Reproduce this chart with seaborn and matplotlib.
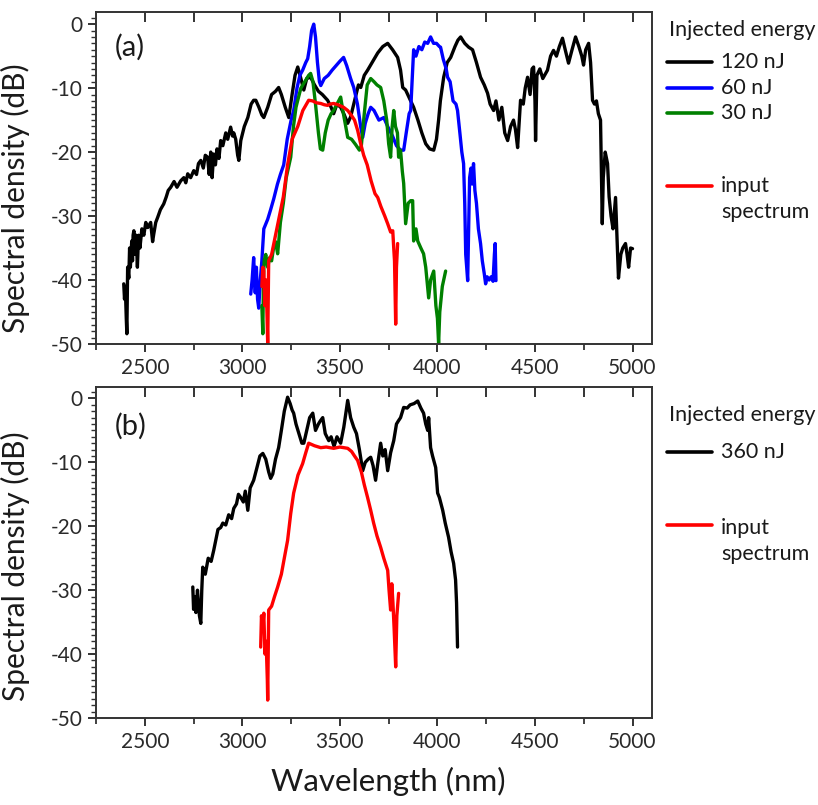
import numpy as np
import pandas as pd
import seaborn as sns
import matplotlib
matplotlib.use("Agg")
import matplotlib.pyplot as plt
from matplotlib.ticker import MultipleLocator
from matplotlib.lines import Line2D

# ---------------- data ----------------
e120_x = [2392, 2396, 2400, 2405, 2408, 2412, 2418, 2422, 2426, 2433, 2437, 2440, 2444, 2450, 2456,
          2462, 2468, 2475, 2485, 2495, 2505, 2515, 2530, 2540, 2546, 2556, 2566, 2580, 2597, 2610,
          2620, 2633, 2650, 2665, 2684, 2700, 2710, 2720, 2735, 2751, 2765, 2775, 2787, 2800, 2810,
          2822, 2830, 2838, 2845, 2853, 2862, 2870, 2880, 2889, 2900, 2915, 2925, 2940, 2950, 2956,
          2966, 2976, 2982, 2992, 3010, 3028, 3045, 3058, 3069, 3085, 3100, 3110, 3130, 3150, 3170,
          3186, 3200, 3220, 3238, 3255, 3270, 3284, 3300, 3315, 3330, 3350, 3370, 3390, 3410, 3437,
          3455, 3468, 3485, 3504, 3520, 3540, 3555, 3575, 3595, 3607, 3625, 3642, 3665, 3694, 3720,
          3745, 3770, 3796, 3811, 3822, 3837, 3855, 3878, 3900, 3920, 3940, 3960, 3981, 3995, 4006,
          4015, 4032, 4050, 4068, 4090, 4105, 4119, 4140, 4160, 4180, 4200, 4221, 4240, 4257, 4270,
          4288, 4300, 4315, 4330, 4345, 4360, 4375, 4390, 4400, 4411, 4420, 4426, 4440, 4450, 4462,
          4475, 4485, 4493, 4500, 4503, 4510, 4525, 4540, 4564, 4580, 4595, 4610, 4625, 4641, 4655,
          4672, 4690, 4708, 4725, 4740, 4749, 4760, 4775, 4785, 4795, 4805, 4815, 4825, 4836, 4840,
          4845, 4850, 4860, 4872, 4880, 4890, 4900, 4913, 4920, 4928, 4940, 4950, 4964, 4972, 4980,
          4990, 5000]
e120_y = [-40.6, -43, -41, -46, -48.4, -38, -39.7, -35, -38, -33.9, -37, -33, -32.3, -36, -33,
          -38, -33, -35, -32, -33, -31, -31.8, -31, -34, -32.8, -31, -30.2, -29, -28.1, -27,
          -26, -25.5, -24.6, -25.5, -24.5, -24, -24.8, -23.4, -24, -22.9, -23.5, -21.8, -21.3, -22.5, -20.5,
          -20.8, -23.5, -20, -24, -20.3, -22, -19.5, -21, -18.2, -19, -17, -18, -16.1, -17.5, -17,
          -18, -20.5, -21.3, -18.2, -16, -14.6, -12.5, -11.9, -11.9, -13, -14.2, -14.6, -13, -11, -10.5,
          -9.9, -11, -13, -14.6, -11, -8, -6.7, -8.5, -10.3, -8.5, -8.3, -9.5, -10.5, -11, -11.9,
          -13, -14, -12.5, -13, -14, -15.5, -14.5, -12, -9.5, -9.9, -8, -7.2, -6, -4.5, -3.5,
          -3, -4, -5.2, -7.2, -9.9, -10.3, -11.5, -13, -15, -17, -18.7, -19.5, -19.7, -18, -15,
          -12, -8.3, -6, -5.2, -3.5, -2.5, -2, -3, -3.6, -4, -6, -8.3, -9.5, -10.8, -12.5,
          -13.5, -12, -15, -13, -17, -18.2, -16, -15, -16.5, -19.3, -15, -11.9, -12.5, -10, -8.3,
          -11, -7, -6.7, -12, -18.2, -8, -7, -8.5, -7.2, -5, -4.1, -5, -3.5, -2.2, -4,
          -6.1, -4, -2, -3.5, -5, -6.4, -4, -3, -6, -11.9, -12.5, -12, -14, -15, -22,
          -31.2, -24, -20, -21.8, -27, -30, -32, -27.1, -33, -39.7, -36, -35, -34.3, -36, -38,
          -35, -35.1]

e60_x = [3043, 3050, 3058, 3066, 3072, 3078, 3084, 3092, 3100, 3110, 3130, 3145, 3161, 3180, 3195,
         3212, 3230, 3250, 3263, 3280, 3295, 3309, 3325, 3335, 3345, 3355, 3366, 3375, 3385, 3395,
         3402, 3420, 3440, 3460, 3480, 3500, 3519, 3535, 3555, 3571, 3590, 3607, 3617, 3630, 3645,
         3658, 3675, 3700, 3725, 3745, 3770, 3790, 3811, 3827, 3840, 3855, 3863, 3870, 3878, 3890,
         3905, 3920, 3935, 3950, 3965, 3980, 3995, 4010, 4016, 4030, 4045, 4052, 4065, 4080, 4095,
         4103, 4115, 4125, 4134, 4140, 4145, 4150, 4155, 4160, 4165, 4172, 4178, 4185, 4192, 4200,
         4210, 4221, 4230, 4240, 4247, 4255, 4265, 4275, 4285, 4292, 4296, 4300]
e60_y = [-42.2, -40, -36.5, -42, -38, -43, -44.4, -40, -37, -32, -30.5, -29, -27.3, -25, -23.5,
         -22, -18, -15, -13.5, -10, -8, -7.2, -6, -5.4, -3.5, -1, 0, -2, -6, -9,
         -9.6, -8.5, -8, -7.2, -6.5, -5.8, -5.2, -6.5, -8.5, -9.9, -12.5, -16.1, -17.7, -15.5, -14,
         -13, -13.5, -15, -14.6, -16, -17.5, -19, -19.7, -19.7, -17, -14, -13.5, -9, -4, -5,
         -3.5, -4, -2.8, -3, -2, -3, -3, -3.5, -3.6, -5.5, -7, -8.3, -9, -12, -12.5,
         -13.5, -17, -20, -21.8, -28, -36, -38, -40.1, -32, -24, -22.5, -25, -21.8, -26, -28,
         -32, -34.3, -37, -39, -40.6, -39.5, -40, -39.5, -40.2, -36, -34.3, -40.1]

e30_x = [3100, 3105, 3108, 3112, 3120, 3130, 3140, 3150, 3160, 3170, 3181, 3195, 3210, 3225, 3248,
         3262, 3275, 3284, 3300, 3320, 3340, 3350, 3362, 3375, 3390, 3400, 3412, 3425, 3440, 3455,
         3468, 3485, 3504, 3515, 3530, 3540, 3560, 3580, 3600, 3610, 3625, 3640, 3658, 3675, 3690,
         3709, 3725, 3740, 3750, 3760, 3768, 3776, 3785, 3795, 3801, 3811, 3820, 3827, 3837, 3850,
         3863, 3873, 3878, 3890, 3899, 3915, 3929, 3940, 3955, 3965, 3981, 3992, 4000, 4006, 4012,
         4025, 4042]
e30_y = [-44, -48.4, -40, -37, -36, -38, -36.5, -37, -35, -34, -35.9, -31, -28, -24, -20.8,
         -16, -13, -11.9, -10, -9, -8, -7.7, -9, -12.5, -17, -19.5, -19.7, -17, -15, -14,
         -13.5, -12.5, -11.4, -13.5, -16, -17.7, -18, -18.8, -19.7, -19, -14, -9.5, -8.5, -9, -9.5,
         -9.9, -12, -15, -18.7, -20.8, -16, -13.5, -16, -17, -20.8, -19.7, -23, -24.9, -31.2, -28,
         -27.6, -27.6, -33.9, -32, -33.9, -35, -35.9, -38, -42.8, -40, -38.6, -44, -46, -50, -45,
         -41, -38.6]

inA_x = [3100, 3105, 3110, 3115, 3122, 3130, 3135, 3150, 3170, 3190, 3210, 3232, 3255, 3284, 3310,
         3340, 3360, 3380, 3402, 3420, 3437, 3450, 3468, 3490, 3519, 3540, 3560, 3575, 3591, 3605,
         3622, 3640, 3660, 3680, 3694, 3710, 3730, 3745, 3760, 3771, 3776, 3780, 3786, 3790, 3796]
inA_y = [-41, -38, -38.6, -44, -40, -50, -37, -36, -33, -30, -27, -22, -18, -16, -13.5,
         -11.9, -12, -12.3, -12.4, -12.6, -12.7, -12.5, -12.4, -12.6, -13, -13.5, -14.3, -15, -16.6, -18.5,
         -20.5, -22, -24.5, -26.5, -27.1, -28.5, -30, -31.2, -32.5, -32.3, -35, -37, -46.9, -38, -34.3]

e360_x = [2746, 2750, 2756, 2762, 2770, 2780, 2787, 2792, 2797, 2810, 2825, 2840, 2853, 2865, 2875,
          2889, 2900, 2915, 2930, 2945, 2956, 2970, 2980, 2992, 3005, 3015, 3028, 3040, 3058, 3075,
          3090, 3105, 3120, 3135, 3145, 3156, 3170, 3186, 3200, 3215, 3232, 3245, 3255, 3263, 3275,
          3290, 3305, 3315, 3330, 3345, 3361, 3375, 3390, 3400, 3412, 3425, 3443, 3455, 3470, 3485,
          3504, 3520, 3532, 3540, 3555, 3571, 3585, 3600, 3617, 3630, 3645, 3658, 3670, 3683, 3695,
          3709, 3720, 3732, 3745, 3760, 3776, 3790, 3800, 3811, 3827, 3845, 3860, 3880, 3899, 3915,
          3929, 3940, 3950, 3955, 3965, 3975, 3991, 4001, 4010, 4027, 4040, 4057, 4070, 4083, 4093,
          4098, 4103]
e360_y = [-29.5, -33, -31, -33.5, -30, -34, -35.2, -30, -26.4, -27.5, -25, -25.5, -23.8, -22, -20.5,
          -20.2, -19.5, -19.8, -18.2, -18.8, -17.2, -16.5, -15, -15.5, -16.2, -14.5, -17.5, -14, -12.8, -10.8,
          -9, -8.6, -9.5, -11.5, -12.5, -11.8, -9.5, -7.7, -5, -2, 0.2, -0.8, -1.8, -2.3, -4,
          -5.5, -7, -7, -5, -3, -2.3, -5, -4, -3.5, -3, -5.5, -6.6, -6, -7.5, -6,
          -7, -4.5, -2, -0.3, -3, -4.5, -5.5, -8, -11.3, -10, -9.5, -9.2, -10.5, -12.8, -10,
          -7, -9, -8, -11.3, -8.5, -6.6, -4, -3.5, -3, -1.4, -1.5, -1, -0.8, -0.4, -1.5,
          -2.3, -4, -5, -3, -7.7, -9, -10.8, -14.8, -15.5, -17.5, -19.5, -21.7, -24, -25.8, -28.4,
          -32, -38.9]

inB_x = [3094, 3098, 3104, 3110, 3116, 3122, 3128, 3130, 3135, 3150, 3165, 3181, 3200, 3215, 3232,
         3248, 3263, 3285, 3309, 3325, 3340, 3370, 3402, 3430, 3468, 3500, 3540, 3560, 3575, 3591,
         3610, 3625, 3642, 3658, 3673, 3690, 3709, 3725, 3745, 3752, 3760, 3766, 3772, 3778, 3786,
         3792, 3801]
inB_y = [-38.9, -34, -36, -33.6, -40, -38, -44, -47.2, -33.1, -32.5, -31, -29.5, -27.5, -25, -22.2,
         -18, -14.8, -12, -10.2, -8.5, -7.0, -7.4, -7.7, -7.6, -7.8, -7.6, -7.8, -8.3, -9, -9.7,
         -11.5, -13.5, -15.5, -17.5, -19.5, -21.5, -23.3, -25, -26.9, -30, -33.1, -29, -32, -36, -42,
         -34, -30.5]

labels_a = ["120 nJ", "60 nJ", "30 nJ", "input\nspectrum"]
labels_b = ["360 nJ", "input\nspectrum"]
colors = {"120 nJ": "#000000", "60 nJ": "#0000ff", "30 nJ": "#008000",
          "input\nspectrum": "#ff0000", "360 nJ": "#000000"}
xticks = [2500, 3000, 3500, 4000, 4500, 5000]
yticks = [0, -10, -20, -30, -40, -50]

# ---------------- build tables ----------------
def frame(pairs):
    rows = []
    for lab, xs, ys in pairs:
        rows.append(pd.DataFrame({"wl": xs, "dB": ys, "series": lab}))
    return pd.concat(rows, ignore_index=True)

df_a = frame([("120 nJ", e120_x, e120_y), ("60 nJ", e60_x, e60_y),
              ("30 nJ", e30_x, e30_y), ("input\nspectrum", inA_x, inA_y)])
df_b = frame([("360 nJ", e360_x, e360_y), ("input\nspectrum", inB_x, inB_y)])

sns.set_theme(style="ticks")
plt.rcParams["font.family"] = ["Lato", "DejaVu Sans"]
plt.rcParams["axes.unicode_minus"] = False

fig = plt.figure(figsize=(8.18, 8.05), dpi=100)
ax_a = fig.add_axes([0.1174, 0.5727, 0.6797, 0.4124])
ax_b = fig.add_axes([0.1174, 0.1081, 0.6797, 0.4112])

tick_col = "#2a2a2a"
spine_col = "#333333"

def style(ax, ylim_top, ylab_y):
    ax.set_xlim(2250, 5100)
    ax.set_ylim(-50, ylim_top)
    ax.set_xticks(xticks)
    ax.set_xticklabels([str(t) for t in xticks])
    ax.set_yticks(yticks)
    ax.set_yticklabels([str(t) for t in yticks])
    ax.xaxis.set_minor_locator(MultipleLocator(250))
    ax.yaxis.set_minor_locator(MultipleLocator(1))
    for s in ax.spines.values():
        s.set_visible(True)
        s.set_color(spine_col)
        s.set_linewidth(1.4)
    ax.tick_params(axis="both", which="both", bottom=True, left=True, top=False, right=False)
    ax.tick_params(axis="both", which="major", direction="out", length=6, width=1.4,
                   color=spine_col, labelsize=15, labelcolor=tick_col, pad=4)
    ax.tick_params(axis="x", which="minor", direction="out", length=4.5, width=1.3, color=spine_col)
    ax.tick_params(axis="y", which="minor", direction="out", length=3.5, width=1.0, color=spine_col)
    sec = ax.secondary_xaxis("top")
    sec.set_xticks(list(range(2500, 5001, 250)))
    sec.tick_params(axis="x", which="major", top=True, direction="in", length=7, width=1.4,
                    color=spine_col, labeltop=False)
    sec.spines["top"].set_visible(False)
    ax.set_xlabel("")
    ax.set_ylabel("Spectral density (dB)", fontsize=21.5, color="#1a1a1a")
    ax.yaxis.set_label_coords(-0.119, ylab_y)
    ax.grid(False)

sns.lineplot(data=df_a, x="wl", y="dB", hue="series", hue_order=labels_a, palette=colors,
             sort=False, estimator=None, linewidth=2.4, legend=False, ax=ax_a)
sns.lineplot(data=df_b, x="wl", y="dB", hue="series", hue_order=labels_b, palette=colors,
             sort=False, estimator=None, linewidth=2.4, legend=False, ax=ax_b)

style(ax_a, 1.9, 0.44)
style(ax_b, 1.8, 0.46)
ax_a.text(0.034, 0.895, "(a)", transform=ax_a.transAxes, fontsize=21, color="#1a1a1a",
          va="center", ha="left")
ax_b.text(0.034, 0.882, "(b)", transform=ax_b.transAxes, fontsize=21, color="#1a1a1a",
          va="center", ha="left")

ax_b.set_xlabel("Wavelength (nm)", fontsize=22.5, color="#1a1a1a")
ax_b.xaxis.set_label_coords(0.525, -0.148)

# ---------------- manual legends ----------------
def legend(ax, title_y, entries):
    ax.text(1.030, title_y, "Injected energy", transform=ax.transAxes, fontsize=15.5,
            color="#1a1a1a", va="center", ha="left", clip_on=False)
    for lab, y_line, y_txt in entries:
        ax.add_line(Line2D([1.027, 1.108], [y_line, y_line], transform=ax.transAxes,
                           color=colors[lab], lw=2.6, clip_on=False))
        ax.text(1.124, y_txt, lab, transform=ax.transAxes, fontsize=15.5, color="#1a1a1a",
                va="center", ha="left", linespacing=1.4, clip_on=False)

legend(ax_a, 0.946, [("120 nJ", 0.849, 0.849), ("60 nJ", 0.771, 0.771),
                     ("30 nJ", 0.696, 0.696), ("input\nspectrum", 0.476, 0.437)])
legend(ax_b, 0.915, [("360 nJ", 0.804, 0.804), ("input\nspectrum", 0.583, 0.535)])

fig.savefig("out.png", dpi=100, facecolor="white")
